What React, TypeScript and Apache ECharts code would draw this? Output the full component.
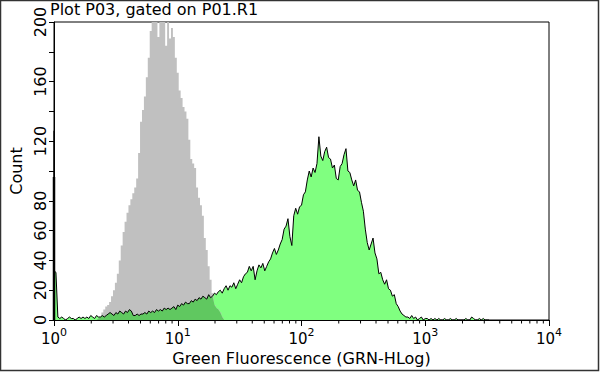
import React, { useEffect, useRef } from "react";
import * as echarts from "echarts";

const binsPerDecade = 64;

// Grey (control) histogram: counts for bins 22..88
const grayStartBin = 22;
const grayCounts = [
  0, 1, 2, 5, 7, 9, 10, 12, 16, 20, 25, 31, 40, 50, 59, 66, 72, 77, 81, 85, 89,
  95, 112, 133, 141, 150, 163, 176, 194, 204, 212, 208, 190, 206, 210, 205, 184,
  200, 189, 196, 190, 176, 166, 154, 149, 143, 140, 135, 121, 108, 105, 102, 89,
  82, 77, 70, 55, 47, 36, 27, 18, 10, 8, 7, 5, 2, 0,
];

// Green (stained) histogram: counts for bins 0..225
const greenCounts = [
  33, 32, 2, 1, 2, 1, 0, 1, 2, 1,
  1, 0, 1, 2, 1, 2, 1, 2, 1, 3,
  2, 1, 3, 2, 2, 3, 2, 3, 4, 5,
  4, 3, 5, 4, 6, 5, 4, 6, 5, 7,
  6, 3, 3, 4, 3, 4, 4, 5, 4, 6,
  5, 6, 5, 7, 6, 7, 6, 8, 7, 8,
  7, 8, 9, 7, 10, 9, 11, 10, 12, 11,
  11, 13, 12, 14, 13, 15, 14, 16, 15, 14,
  17, 15, 16, 18, 17, 19, 20, 18, 21, 23,
  20, 23, 22, 25, 21, 24, 27, 25, 29, 31,
  32, 36, 33, 36, 27, 33, 37, 35, 38, 33,
  36, 39, 41, 45, 48, 44, 47, 51, 54, 61,
  63, 68, 56, 50, 70, 75, 71, 76, 77, 84,
  86, 94, 100, 96, 102, 99, 105, 123, 110, 107,
  113, 116, 109, 108, 102, 104, 95, 94, 103, 105,
  111, 115, 100, 99, 94, 90, 94, 87, 86, 79,
  73, 61, 52, 47, 51, 55, 45, 41, 31, 32,
  27, 24, 27, 21, 20, 16, 17, 11, 9, 6,
  4, 3, 2, 2, 1, 3, 1, 2, 0, 1,
  2, 0, 1, 1, 0, 1, 0, 1, 0, 1,
  0, 0, 1, 0, 0, 1, 0, 0, 1, 0,
  0, 0, 0, 1, 0, 0, 2, 1, 0, 0,
  1, 0, 1, 0, 0, 0,
];

// Off-scale pile-up in the first channel (outline only)
const firstChannelSpikes = [127, 96];

const xDecades = [1, 10, 100, 1000, 10000];
const yTicks = [0, 20, 40, 60, 80, 100, 120, 140, 160, 180, 200];
const hiddenYLabels = [100, 140, 180];

const binX = (b: number) => Math.pow(10, b / binsPerDecade);

export default function App() {
  const ref = useRef<HTMLDivElement>(null);
  useEffect(() => {
    if (!ref.current) return;
    const chart = echarts.init(ref.current, null, { renderer: "svg" });
    const font = "DejaVu Sans";

    const grayData = grayCounts.map((v, i) => [binX(grayStartBin + i), v]);
    const greenData = greenCounts.map((v, i) => [binX(i), v]);
    const overlapData = grayCounts.map((v, i) => {
      const b = grayStartBin + i;
      const g = b < greenCounts.length ? greenCounts[b] : 0;
      return [binX(b), Math.min(v, g)];
    });

    const minorTicks: number[][] = [];
    for (let d = 0; d < xDecades.length - 1; d++) {
      for (let m = 2; m <= 9; m++) minorTicks.push([xDecades[d] * m, 0]);
    }

    const lineBase = {
      type: "line" as const,
      showSymbol: false,
      symbol: "none",
      animation: false,
      silent: true,
    };

    chart.setOption({
      animation: false,
      backgroundColor: "#fff",
      title: {
        text: "Plot P03, gated on P01.R1",
        left: 50,
        top: 1,
        padding: 0,
        textStyle: { fontFamily: font, fontSize: 16, fontWeight: "normal", color: "#000" },
      },
      graphic: [
        {
          type: "rect",
          shape: { x: 0.5, y: 0.5, width: 598, height: 370 },
          style: { fill: "none", stroke: "#333", lineWidth: 1.5 },
          silent: true,
        },
      ],
      grid: {
        left: 50,
        top: 22,
        width: 499,
        height: 298,
        show: true,
        borderColor: "#000",
        borderWidth: 1,
        backgroundColor: "transparent",
      },
      xAxis: {
        type: "log",
        logBase: 10,
        min: 1,
        max: 10000,
        axisLine: { show: true, lineStyle: { color: "#000", width: 1 } },
        axisTick: { show: true, length: 6, lineStyle: { color: "#000" } },
        splitLine: { show: false },
        axisLabel: {
          color: "#000",
          fontFamily: font,
          fontSize: 15,
          margin: 7,
          showMinLabel: true,
          showMaxLabel: true,
          formatter: (v: number) => "{b|10}{s|" + Math.round(Math.log10(v)) + "}",
          rich: {
            b: { fontFamily: font, fontSize: 15, lineHeight: 19, verticalAlign: "bottom", color: "#000" },
            s: { fontFamily: font, fontSize: 11, lineHeight: 12, verticalAlign: "top", color: "#000" },
          },
        },
        name: "Green Fluorescence (GRN-HLog)",
        nameLocation: "middle",
        nameGap: 30,
        nameTextStyle: { color: "#000", fontFamily: font, fontSize: 16 },
      },
      yAxis: {
        type: "value",
        min: yTicks[0],
        max: yTicks[yTicks.length - 1],
        interval: 20,
        axisLine: { show: true, lineStyle: { color: "#000", width: 1 } },
        axisTick: { show: true, length: 5, lineStyle: { color: "#000" } },
        splitLine: { show: false },
        axisLabel: {
          rotate: 90,
          color: "#000",
          fontFamily: font,
          fontSize: 16,
          margin: 6,
          formatter: (v: number) => (hiddenYLabels.includes(v) ? "" : String(v)),
        },
        name: "Count",
        nameLocation: "middle",
        nameRotate: 90,
        nameGap: 30,
        nameTextStyle: { color: "#000", fontFamily: font, fontSize: 16 },
      },
      series: [
        {
          ...lineBase,
          name: "green-fill",
          data: greenData,
          lineStyle: { width: 0 },
          areaStyle: { color: "#80FF80", opacity: 1 },
          z: 2,
        },
        {
          ...lineBase,
          name: "gray",
          data: grayData,
          step: "middle",
          lineStyle: { width: 0 },
          areaStyle: { color: "#C0C0C0", opacity: 1 },
          z: 2,
        },
        {
          ...lineBase,
          name: "overlap",
          data: overlapData,
          lineStyle: { width: 0 },
          areaStyle: { color: "#60C860", opacity: 1 },
          z: 2,
        },
        {
          ...lineBase,
          name: "green-outline",
          data: greenData,
          lineStyle: { color: "#000", width: 1 },
          z: 3,
        },
        {
          ...lineBase,
          name: "spike1",
          data: [[1, 0], [1, firstChannelSpikes[0]]],
          lineStyle: { color: "#000", width: 1.2 },
          z: 4,
        },
        {
          ...lineBase,
          name: "spike2",
          data: [[1, 0], [1, firstChannelSpikes[1]]],
          lineStyle: { color: "#000", width: 2.5 },
          z: 4,
        },
        {
          type: "custom",
          name: "minorTicks",
          data: minorTicks,
          clip: false,
          silent: true,
          z: 5,
          renderItem: (params: any, api: any) => {
            const p = api.coord([api.value(0), 0]);
            return {
              type: "line",
              shape: { x1: p[0], y1: p[1], x2: p[0], y2: p[1] + 3.5 },
              style: { stroke: "#000", lineWidth: 1 },
            };
          },
        },
      ],
    });
    return () => chart.dispose();
  }, []);
  return (
    <div
      ref={ref}
      style={{ position: "fixed", left: 0, top: 0, width: 600, height: 372 }}
    />
  );
}
